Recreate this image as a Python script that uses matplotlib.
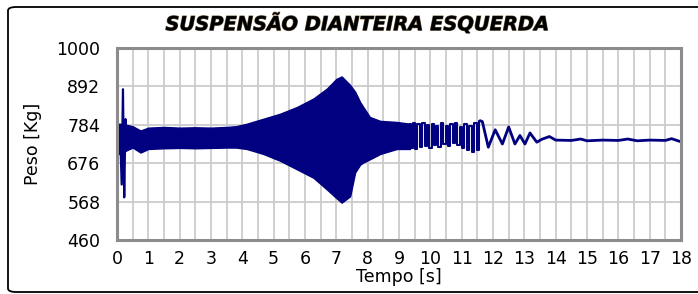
import numpy as np
import matplotlib
matplotlib.use("Agg")
import matplotlib.pyplot as plt
import matplotlib.patches as mpatches
import matplotlib.patheffects as pe

# dense part of the signal, read as an envelope (upper / lower) off the picture
band_t = [0.00, 0.12, 0.30, 0.50, 0.75, 1.00, 1.50, 2.00, 2.50, 3.00, 3.50, 3.80,
          4.14, 4.67, 5.20, 5.74, 6.27, 6.70, 7.00, 7.17, 7.44, 7.60, 7.76, 7.86,
          8.07, 8.40, 8.93, 9.35]
band_hi = [787, 787, 784, 780, 768, 776, 778, 776, 777, 776, 778, 780,
           787, 801, 815, 834, 858, 886, 913, 920, 896, 877, 848, 834,
           806, 795, 792, 787]
band_lo = [702, 702, 712, 720, 706, 716, 718, 719, 718, 719, 720, 720,
           716, 702, 683, 659, 635, 602, 578, 565, 583, 650, 672, 678,
           687, 702, 716, 716]

# start transient spike
spike_t = [0.10, 0.15, 0.19, 0.23, 0.27, 0.30]
spike_v = [760, 616, 884, 580, 800, 725]

# sparse strokes after the dense band
stroke_t = [9.35, 9.40, 9.48, 9.55, 9.62, 9.70, 9.78, 9.85, 9.92, 10.00, 10.08,
            10.15, 10.22, 10.30, 10.38, 10.45, 10.52, 10.60, 10.68, 10.75, 10.82,
            10.90, 10.98, 11.05, 11.12, 11.20, 11.28, 11.36, 11.44, 11.52, 11.60]
stroke_v = [787, 718, 788, 716, 785, 722, 790, 725, 784, 720, 786,
            728, 782, 722, 788, 730, 780, 724, 785, 732, 790,
            726, 778, 718, 786, 712, 780, 708, 788, 714, 795]

# slow decaying waves and the settled value
wave_t = [11.60, 11.66, 11.85, 12.07, 12.30, 12.50, 12.70, 12.86, 13.02, 13.18,
          13.40, 13.55, 13.80, 14.00, 14.50, 14.80, 15.00, 15.50, 16.00, 16.30,
          16.60, 17.00, 17.50, 17.70, 17.97]
wave_v = [795, 793, 721, 770, 730, 778, 730, 754, 730, 761,
          735, 743, 751, 741, 740, 744, 739, 741, 740, 744,
          739, 741, 740, 745, 737]

x_ticks = list(range(0, 19))
y_ticks = [460, 568, 676, 784, 892, 1000]

navy = "#000080"

fig = plt.figure(figsize=(6.98, 2.94), dpi=100)
fig.patch.set_facecolor("white")

# outer rounded frame
box = mpatches.FancyBboxPatch((8 / 698, 2 / 294), 1.05, 285 / 294,
                              boxstyle="round,pad=0,rounding_size=0.012",
                              transform=fig.transFigure, facecolor="white",
                              edgecolor="black", linewidth=1.3, zorder=-5)
fig.patches.append(box)

ax = fig.add_axes([117 / 698, 1 - 240 / 294, 564 / 698, 192 / 294])
ax.set_xlim(0, 18)
ax.set_ylim(460, 1000)

ax.set_xticks(x_ticks)
ax.set_xticks(np.arange(0, 18.01, 0.5), minor=True)
ax.set_yticks(y_ticks)
ax.grid(True, which="both", axis="x", color="#cccccc", linewidth=1.3)
ax.grid(True, which="major", axis="y", color="#cccccc", linewidth=1.3)
ax.set_axisbelow(True)
ax.tick_params(which="both", length=0, labelsize=12.5)
ax.tick_params(axis="x", pad=7)
ax.tick_params(axis="y", pad=12)
for s in ax.spines.values():
    s.set_color("#8c8c8c")
    s.set_linewidth(2.2)

ax.fill_between(band_t, band_lo, band_hi, color=navy, linewidth=1.0, edgecolor=navy)
ax.plot(spike_t, spike_v, color=navy, linewidth=1.6)
ax.plot(stroke_t, stroke_v, color=navy, linewidth=1.5, drawstyle="steps-mid")
ax.plot(wave_t, wave_v, color=navy, linewidth=2.0)

ax.set_xlabel("Tempo [s]", fontsize=12.5, labelpad=0)
ax.set_ylabel("Peso [Kg]", fontsize=12.5, labelpad=10)

fig.text(358 / 698, 1 - 24 / 294, "SUSPENSÃO DIANTEIRA ESQUERDA",
         fontsize=14, fontweight="bold", fontstyle="italic",
         ha="center", va="center",
         path_effects=[pe.withStroke(linewidth=0.8, foreground="#6a5a40")])

fig.savefig("out.png", dpi=100)
